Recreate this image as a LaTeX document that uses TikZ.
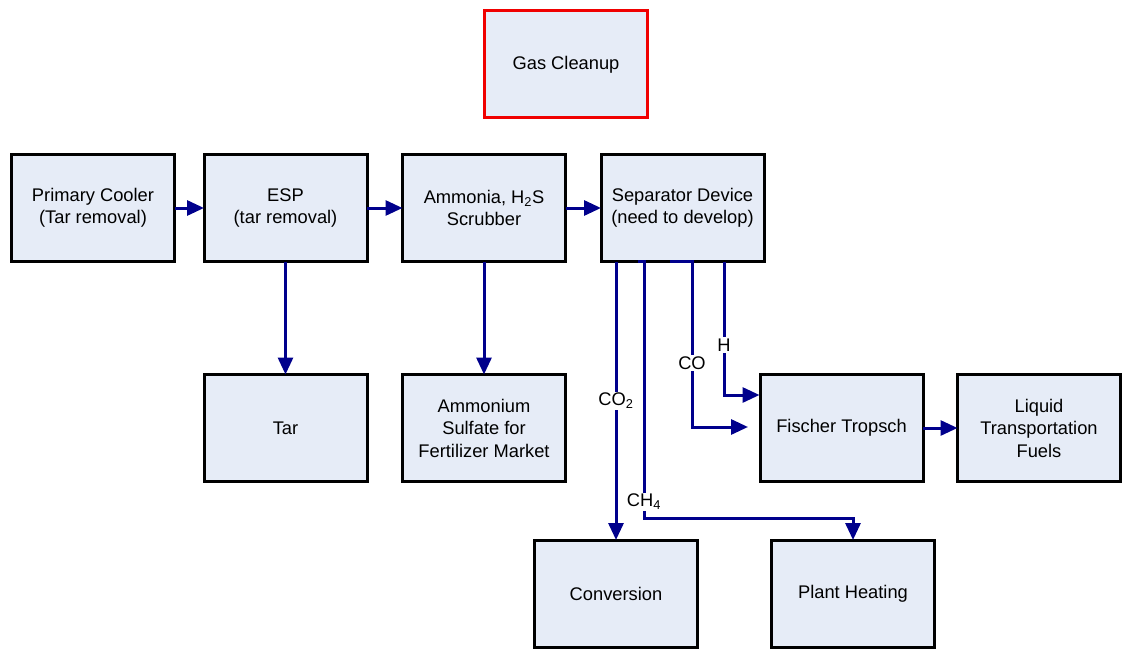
\documentclass[tikz,border=0pt]{standalone}
\usepackage{fontspec}
\setmainfont{Liberation Sans}
\usetikzlibrary{arrows.meta}
\definecolor{boxfill}{RGB}{230,236,247}
\definecolor{flow}{RGB}{0,0,140}
\definecolor{redline}{RGB}{240,0,0}
\begin{document}
\begin{tikzpicture}[x=1pt,y=-1pt,
  box/.style={draw=black, line width=3pt, fill=boxfill, minimum width=163pt, minimum height=107pt,
    inner sep=2pt, outer sep=0pt, align=center, font=\fontsize{18.3}{22.5}\selectfont},
  flowline/.style={draw=flow, line width=3pt, -{Triangle[length=17pt,width=15pt]}},
  lbl/.style={fill=white, inner sep=1.5pt, font=\fontsize{18.3}{22.5}\selectfont}]
\useasboundingbox (0,0) rectangle (1122,650);

\node[box, draw=redline] (gas) at (566,64.5) {Gas Cleanup};
\node[box] (pc)   at (93,208)    {Primary Cooler\\(Tar removal)};
\node[box] (esp)  at (285.5,208) {ESP\\(tar removal)};
\node[box] (amm)  at (484,208)   {Ammonia, H\textsubscript{2}S\\Scrubber};
\node[box] (sep)  at (682.5,208) {Separator Device\\(need to develop)};
\node[box] (tar)  at (285.5,428) {Tar};
\node[box] (sulf) at (484,428) {Ammonium\\Sulfate for\\Fertilizer Market};
\node[box] (ft)   at (841.5,428) {Fischer Tropsch};
\node[box] (liq)  at (1039,428) {Liquid\\Transportation\\Fuels};
\node[box] (conv) at (616,593.5) {Conversion};
\node[box] (heat) at (853,593.5) {Plant Heating};

\draw[flowline] (pc) -- (esp);
\draw[flowline] (esp) -- (amm);
\draw[flowline] (amm) -- (sep);
\draw[flowline] (esp) -- (tar);
\draw[flowline] (amm) -- (sulf);
\draw[flowline] (ft) -- (liq);

\coordinate (ch4s) at (638,261.5);
\coordinate (ch4c) at (644,261.5);
\coordinate (ch4d) at (644,518);
\coordinate (cos) at (670,261.5);
\coordinate (coc) at (692,261.5);
\coordinate (cod) at (692,427);
\coordinate (coe) at (748,427);
\coordinate (hs) at (724,261.5);
\coordinate (he) at (759.5,395);

\draw[flowline] (sep.south -| conv.north) -- (conv.north);
\draw[flowline] (ch4s) -- (ch4c) -- (ch4d) -| (heat.north);
\draw[flowline] (cos) -- (coc) -- (cod) -- (coe);
\draw[flowline] (hs) |- (he);

\node[lbl] (co2l) at (616,401) {CO\textsubscript{2}};
\node[lbl] (ch4l) at (644,502) {CH\textsubscript{4}};
\node[lbl] (col)  at (692,363) {CO};
\node[lbl] (hl)   at (724,345) {H};
\end{tikzpicture}
\end{document}
